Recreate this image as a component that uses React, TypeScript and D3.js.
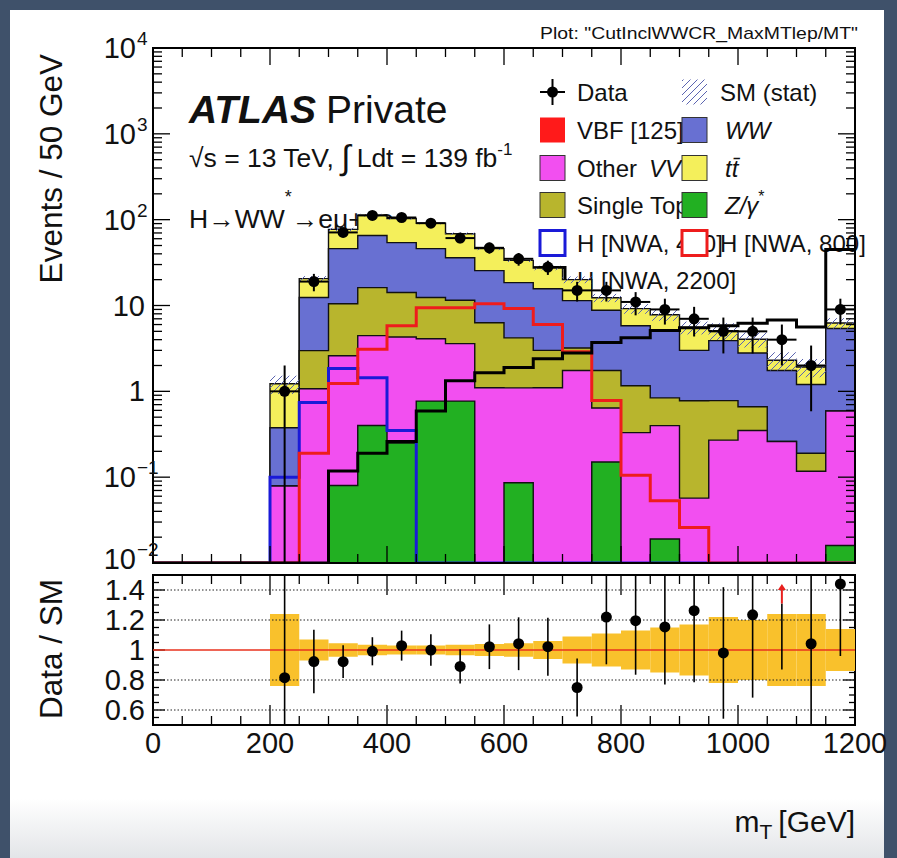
import * as d3 from "d3";
import React, { useEffect, useRef } from "react";

// 50 GeV bins in m_T
const binLow = [0, 50, 100, 150, 200, 250, 300, 350, 400, 450, 500, 550, 600, 650, 700, 750, 800, 850, 900, 950, 1000, 1050, 1100, 1150];
const binWidth = 50;

// backgrounds (events / bin), stacked bottom -> top
const zJets = [0, 0, 0, 0, 0, 0, 0.08, 0.4, 0.25, 0.77, 0.77, 0, 0.086, 0, 0, 0.15, 0, 0.019, 0, 0, 0, 0, 0, 0.016];
const otherVV = [0, 0, 0, 0, 0.079, 1.07, 2.52, 4.06, 4.05, 3.33, 2.83, 1.1, 1.01, 1.1, 1.75, 0.49, 0.33, 0.38, 0.057, 0.27, 0.35, 0.26, 0.117, 0.574];
const singleTop = [0, 0, 0, 0, 0, 1.91, 7.9, 11.7, 9.9, 8.3, 7.9, 5.2, 3.1, 1.9, 1.45, 1.11, 0.83, 0.44, 0.72, 0.51, 0.31, 0, 0.073, 0];
const wwBkg = [0, 0, 0, 0, 0.297, 9.4, 35.5, 49.3, 39.8, 33.6, 24.5, 19.2, 14.3, 12.7, 8.2, 7.05, 4.64, 4.26, 2.22, 3.12, 2.14, 1.49, 1.01, 4.81];
const ttBar = [0, 0, 0, 0, 0.85, 8.2, 31, 47.5, 49, 45, 32.5, 20.5, 15.1, 11.7, 8.6, 3.5, 3.4, 2.7, 2.55, 1.2, 1.25, 0.55, 0.72, 0.85];

// relative SM stat uncertainty per bin
const smStatRel = [0, 0, 0, 0, 0.24, 0.07, 0.045, 0.035, 0.03, 0.03, 0.035, 0.04, 0.045, 0.06, 0.09, 0.11, 0.13, 0.15, 0.17, 0.22, 0.2, 0.24, 0.24, 0.14];

const dataCounts = [0, 0, 0, 0, 1, 19, 71, 112, 106, 91, 61, 47, 35, 28, 15, 15, 11, 9, 7, 5, 5, 4, 2, 9];

// signal hypotheses
const hNWA400 = [0, 0, 0, 0, 0.1, 0.74, 1.84, 1.44, 0.35, 0, 0, 0, 0, 0, 0, 0, 0, 0, 0, 0, 0, 0, 0, 0];
const hNWA800 = [0, 0, 0, 0, 0, 0.19, 1.23, 3.1, 5.8, 9.4, 9.4, 10.5, 9.2, 6.0, 2.9, 0.78, 0.105, 0.053, 0.026, 0, 0, 0, 0, 0];
const hNWA2200 = [0, 0, 0, 0, 0, 0, 0.118, 0.19, 0.26, 0.59, 1.33, 1.65, 1.89, 2.4, 2.8, 3.7, 4.2, 5.1, 5.5, 5.8, 6.2, 6.8, 5.6, 45];

const xTicks = [0, 200, 400, 600, 800, 1000, 1200];
const yDecades = [0.01, 0.1, 1, 10, 100, 1000, 10000];
const yDecadeLabels = [["10", "\u22122"], ["10", "\u22121"], ["1", ""], ["10", ""], ["10", "2"], ["10", "3"], ["10", "4"]];
const ratioTicks = [0.6, 0.8, 1, 1.2, 1.4];
const ratioTickLabels = ["0.6", "0.8", "1", "1.2", "1.4"];

const FONT = "'Liberation Sans', Arial, Helvetica, sans-serif";
const W = 897;
const H = 858;

function App() {
    const svgRef = useRef(null);

    useEffect(() => {
        const svg = d3.select(svgRef.current);
        svg.selectAll("*").remove();

        const fr = { left: 153, right: 855, top: 48, bottom: 563 };
        const rfr = { top: 575, bottom: 725 };

        const x = d3.scaleLinear().domain([0, 1200]).range([fr.left, fr.right]);
        const y = d3.scaleLog().domain([0.01, 10000]).range([fr.bottom, fr.top]).clamp(true);
        const yr = d3.scaleLinear().domain([0.5, 1.5]).range([rfr.bottom, rfr.top]).clamp(true);
        const yv = (v) => y(Math.max(v, 0.001));

        const defs = svg.append("defs");
        const grad = defs.append("linearGradient").attr("id", "bgGrad").attr("x1", 0).attr("x2", 0).attr("y1", 0).attr("y2", 1);
        grad.append("stop").attr("offset", "0.93").attr("stop-color", "#ffffff");
        grad.append("stop").attr("offset", "1").attr("stop-color", "#e3e5e8");
        const hatch = defs.append("pattern").attr("id", "hatch").attr("patternUnits", "userSpaceOnUse")
            .attr("width", 7).attr("height", 7);
        hatch.append("path").attr("d", "M-1,8 L8,-1 M-1,1 L1,-1 M6,8 L8,6").attr("stroke", "#5b64b0").attr("stroke-width", 1);
        defs.append("clipPath").attr("id", "upClip").append("rect")
            .attr("x", fr.left).attr("y", fr.top).attr("width", fr.right - fr.left).attr("height", fr.bottom - fr.top);
        defs.append("clipPath").attr("id", "loClip").append("rect")
            .attr("x", fr.left).attr("y", rfr.top).attr("width", fr.right - fr.left).attr("height", rfr.bottom - rfr.top);

        // page background
        svg.append("rect").attr("width", W).attr("height", H).attr("fill", "#3f516a");
        svg.append("rect").attr("x", 10).attr("y", 10).attr("width", 874).attr("height", H - 10).attr("fill", "url(#bgGrad)");

        const text = (g, xx, yy, size, anchor = "start") =>
            g.append("text").attr("x", xx).attr("y", yy).attr("font-family", FONT).attr("font-size", size)
                .attr("text-anchor", anchor).attr("fill", "#111");

        // title
        text(svg, 858, 39, 17, "end").attr("textLength", 318).attr("lengthAdjust", "spacingAndGlyphs")
            .text('Plot: "CutInclWWCR_MaxMTlep/MT"');

        // ATLAS labels
        const atl = text(svg, 189, 123, 39);
        atl.append("tspan").attr("font-weight", "bold").attr("font-style", "italic").text("ATLAS");
        atl.append("tspan").attr("dx", 10).text("Private");

        const lumi = text(svg, 189, 167, 26.5);
        lumi.append("tspan").text("\u221As = 13 TeV, ");
        lumi.append("tspan").attr("font-size", 34).attr("dy", 2).text("\u222B");
        lumi.append("tspan").attr("dy", -2).attr("dx", 6).text("Ldt = 139 fb");
        lumi.append("tspan").attr("font-size", 17).attr("dy", -12).text("-1");

        const chan = text(svg, 189, 228, 26.5);
        chan.append("tspan").text("H\u2192WW");
        chan.append("tspan").attr("font-size", 18).attr("dy", -25).text("*");
        chan.append("tspan").attr("dy", 25).text("\u2192e\u03BC+\u03BCe");

        // legend (drawn under the histograms)
        const leg = svg.append("g");
        const rows = [92, 130, 168, 205, 243, 280];
        const c1 = 540, c2 = 682, bw = 25, bh = 25;
        const legText = (xx, yy, parts) => {
            const t = text(leg, xx, yy + 9, 24);
            parts.forEach((p) => {
                const s = t.append("tspan").text(p.t);
                if (p.it) s.attr("font-style", "italic");
                if (p.dx) s.attr("dx", p.dx);
                if (p.sup) s.attr("font-size", 16).attr("dy", -12);
            });
            return t;
        };
        const legBox = (xx, yy, fill, stroke, sw) =>
            leg.append("rect").attr("x", xx).attr("y", yy - bh / 2).attr("width", bw).attr("height", bh)
                .attr("fill", fill).attr("stroke", stroke).attr("stroke-width", sw);

        // column 1 texts first, then column 2 boxes on top
        legText(577, rows[0], [{ t: "Data" }]);
        legText(577, rows[1], [{ t: "VBF [125]" }]);
        legText(577, rows[2], [{ t: "Other" }, { t: "VV", it: true, dx: 12 }]);
        legText(577, rows[3], [{ t: "Single Top" }]);
        legText(577, rows[4], [{ t: "H [NWA, 400]" }]);
        legText(577, rows[5], [{ t: "H [NWA, 2200]" }]);

        // data marker
        leg.append("line").attr("x1", c1).attr("x2", c1 + bw).attr("y1", rows[0]).attr("y2", rows[0]).attr("stroke", "#000").attr("stroke-width", 2);
        leg.append("line").attr("x1", c1 + bw / 2).attr("x2", c1 + bw / 2).attr("y1", rows[0] - 13).attr("y2", rows[0] + 13).attr("stroke", "#000").attr("stroke-width", 2);
        leg.append("circle").attr("cx", c1 + bw / 2).attr("cy", rows[0]).attr("r", 5.5).attr("fill", "#000");
        legBox(c1, rows[1], "#ff1a1a", "none", 0);
        legBox(c1, rows[2], "#f24ff0", "#333", 1);
        legBox(c1, rows[3], "#b8b52d", "#333", 1);
        legBox(c1, rows[4], "#fff", "#1a1ad8", 3);
        legBox(c1, rows[5], "#fff", "#000", 3);

        legBox(c2, rows[0], "url(#hatch)", "none", 0);
        legBox(c2, rows[1], "#6870d2", "#333", 1);
        legBox(c2, rows[2], "#f4ef5b", "#333", 1);
        legBox(c2, rows[3], "#22b022", "#333", 1);
        legBox(c2, rows[4], "#fff", "#ee1c1c", 3);

        legText(720, rows[0], [{ t: "SM (stat)" }]);
        legText(725, rows[1], [{ t: "WW", it: true }]);
        legText(725, rows[2], [{ t: "t", it: true }, { t: "t\u0304", it: true }]);
        legText(725, rows[3], [{ t: "Z/\u03B3", it: true }, { t: "*", sup: true }]);
        legText(720, rows[4], [{ t: "H [NWA, 800]" }]);

        // stacked backgrounds
        const stack = [
            { vals: zJets, color: "#22b022" },
            { vals: otherVV, color: "#f24ff0" },
            { vals: singleTop, color: "#b8b52d" },
            { vals: wwBkg, color: "#6870d2" },
            { vals: ttBar, color: "#f4ef5b" },
        ];
        let run = binLow.map(() => 0);
        const cum = stack.map((s) => {
            run = run.map((r, i) => r + s.vals[i]);
            return { color: s.color, vals: run.slice() };
        });
        const total = cum[cum.length - 1].vals;

        const stepPts = (vals) =>
            vals.flatMap((v, i) => [[x(binLow[i]), yv(v)], [x(binLow[i] + binWidth), yv(v)]]);
        const area = d3.area().x((d) => d[0]).y0(fr.bottom).y1((d) => d[1]);
        const line = d3.line();

        const up = svg.append("g").attr("clip-path", "url(#upClip)");
        cum.slice().reverse().forEach((c) => {
            up.append("path").attr("d", area(stepPts(c.vals))).attr("fill", c.color);
            up.append("path").attr("d", line(stepPts(c.vals))).attr("fill", "none").attr("stroke", "#111").attr("stroke-width", 1.4);
        });

        // SM stat hatch
        binLow.forEach((lo, i) => {
            if (total[i] <= 0) return;
            up.append("rect").attr("x", x(lo)).attr("width", x(lo + binWidth) - x(lo))
                .attr("y", yv(total[i] * (1 + smStatRel[i])))
                .attr("height", yv(total[i] * (1 - smStatRel[i])) - yv(total[i] * (1 + smStatRel[i])))
                .attr("fill", "url(#hatch)");
        });

        // signal lines
        [
            { vals: hNWA400, color: "#1a1ad8" },
            { vals: hNWA800, color: "#ee1c1c" },
            { vals: hNWA2200, color: "#000" },
        ].forEach((s) => {
            up.append("path").attr("d", line(stepPts(s.vals))).attr("fill", "none")
                .attr("stroke", s.color).attr("stroke-width", 3);
        });

        // data
        binLow.forEach((lo, i) => {
            const n = dataCounts[i];
            if (n <= 0) return;
            const cx = x(lo + binWidth / 2);
            const e = Math.sqrt(n);
            up.append("line").attr("x1", cx).attr("x2", cx).attr("y1", yv(n + e)).attr("y2", yv(n - e)).attr("stroke", "#000").attr("stroke-width", 2);
            up.append("line").attr("x1", x(lo)).attr("x2", x(lo + binWidth)).attr("y1", yv(n)).attr("y2", yv(n)).attr("stroke", "#000").attr("stroke-width", 2);
            up.append("circle").attr("cx", cx).attr("cy", yv(n)).attr("r", 5.5).attr("fill", "#000");
        });

        // upper frame & ticks
        const axes = svg.append("g").attr("stroke", "#000");
        axes.append("rect").attr("x", fr.left).attr("y", fr.top).attr("width", fr.right - fr.left)
            .attr("height", fr.bottom - fr.top).attr("fill", "none").attr("stroke-width", 2);
        d3.range(0, 1201, 50).forEach((m) => {
            const len = m % 200 === 0 ? 17 : 9;
            axes.append("line").attr("x1", x(m)).attr("x2", x(m)).attr("y1", fr.bottom).attr("y2", fr.bottom - len).attr("stroke-width", 1.3);
            axes.append("line").attr("x1", x(m)).attr("x2", x(m)).attr("y1", fr.top).attr("y2", fr.top + len).attr("stroke-width", 1.3);
            const rlen = m % 200 === 0 ? 20 : 9;
            axes.append("line").attr("x1", x(m)).attr("x2", x(m)).attr("y1", rfr.bottom).attr("y2", rfr.bottom - rlen).attr("stroke-width", 1.3);
            axes.append("line").attr("x1", x(m)).attr("x2", x(m)).attr("y1", rfr.top).attr("y2", rfr.top + rlen).attr("stroke-width", 1.3);
        });
        yDecades.forEach((d, k) => {
            axes.append("line").attr("x1", fr.left).attr("x2", fr.left + 17).attr("y1", y(d)).attr("y2", y(d)).attr("stroke-width", 1.3);
            axes.append("line").attr("x1", fr.right).attr("x2", fr.right - 17).attr("y1", y(d)).attr("y2", y(d)).attr("stroke-width", 1.3);
            if (k === yDecades.length - 1) return;
            d3.range(2, 10).forEach((j) => {
                const yy = y(j * d);
                axes.append("line").attr("x1", fr.left).attr("x2", fr.left + 9).attr("y1", yy).attr("y2", yy).attr("stroke-width", 1.3);
                axes.append("line").attr("x1", fr.right).attr("x2", fr.right - 9).attr("y1", yy).attr("y2", yy).attr("stroke-width", 1.3);
            });
        });
        yDecades.forEach((d, k) => {
            const [base, ex] = yDecadeLabels[k];
            const shift = k === 0 ? -4 : 0;
            text(svg, ex ? 136 : 145, y(d) + 10 + shift, 29, "end").text(base);
            if (ex) text(svg, 137, y(d) - 3 + shift, 19, "start").text(ex);
        });

        // lower panel
        const lo = svg.append("g").attr("clip-path", "url(#loClip)");
        binLow.forEach((b, i) => {
            if (total[i] <= 0) return;
            lo.append("rect").attr("x", x(b)).attr("width", x(b + binWidth) - x(b))
                .attr("y", yr(1 + smStatRel[i])).attr("height", yr(1 - smStatRel[i]) - yr(1 + smStatRel[i]))
                .attr("fill", "#f9c12c");
        });
        ratioTicks.filter((r) => r !== 1).forEach((r) => {
            lo.append("line").attr("x1", fr.left).attr("x2", fr.right).attr("y1", yr(r)).attr("y2", yr(r))
                .attr("stroke", "#222").attr("stroke-width", 1).attr("stroke-dasharray", "1.5,2");
        });
        lo.append("line").attr("x1", fr.left).attr("x2", fr.right).attr("y1", yr(1)).attr("y2", yr(1))
            .attr("stroke", "#e8321e").attr("stroke-width", 1.5);
        binLow.forEach((b, i) => {
            const n = dataCounts[i];
            if (n <= 0 || total[i] <= 0) return;
            const r = n / total[i];
            const e = Math.sqrt(n) / total[i];
            const cx = x(b + binWidth / 2);
            if (r > 1.5) {
                lo.append("line").attr("x1", cx).attr("x2", cx).attr("y1", yr(r - e)).attr("y2", yr(1.31)).attr("stroke", "#000").attr("stroke-width", 1.6);
                lo.append("line").attr("x1", cx).attr("x2", cx).attr("y1", yr(1.31)).attr("y2", yr(1.4)).attr("stroke", "#e8201e").attr("stroke-width", 2);
                lo.append("path").attr("d", `M${cx - 4},${yr(1.4)} L${cx + 4},${yr(1.4)} L${cx},${yr(1.44)} Z`).attr("fill", "#e8201e");
                return;
            }
            lo.append("line").attr("x1", cx).attr("x2", cx).attr("y1", yr(r + e)).attr("y2", yr(r - e)).attr("stroke", "#000").attr("stroke-width", 1.6);
            lo.append("circle").attr("cx", cx).attr("cy", yr(r)).attr("r", 5.5).attr("fill", "#000");
        });

        axes.append("rect").attr("x", fr.left).attr("y", rfr.top).attr("width", fr.right - fr.left)
            .attr("height", rfr.bottom - rfr.top).attr("fill", "none").attr("stroke-width", 2);
        d3.range(0.5, 1.501, 0.05).forEach((r) => {
            const major = Math.abs(r * 5 - Math.round(r * 5)) < 1e-6;
            const len = major ? 12 : 6;
            axes.append("line").attr("x1", fr.left).attr("x2", fr.left + len).attr("y1", yr(r)).attr("y2", yr(r)).attr("stroke-width", 1.3);
            axes.append("line").attr("x1", fr.right).attr("x2", fr.right - len).attr("y1", yr(r)).attr("y2", yr(r)).attr("stroke-width", 1.3);
        });
        ratioTicks.forEach((r, k) => {
            text(svg, 145, yr(r) + 10, 29, "end").text(ratioTickLabels[k]);
        });
        xTicks.forEach((m) => {
            text(svg, x(m), 753, 29, "middle").text(String(m));
        });

        // axis titles
        text(svg, 0, 0, 31.5, "end").attr("transform", `translate(62,${fr.top + 6}) rotate(-90)`).text("Events / 50 GeV");
        text(svg, 0, 0, 31.5, "end").attr("transform", `translate(62,${rfr.top + 4}) rotate(-90)`).text("Data / SM");
        const xt = text(svg, fr.right, 832, 30, "end");
        xt.append("tspan").text("m");
        xt.append("tspan").attr("font-size", 21).attr("dy", 7).text("T");
        xt.append("tspan").attr("dy", -7).attr("dx", 6).text("[GeV]");
    }, []);

    return <svg ref={svgRef} width={W} height={H} style={{ position: "absolute", left: 0, top: 0, display: "block" }}></svg>;
}

export default App;
